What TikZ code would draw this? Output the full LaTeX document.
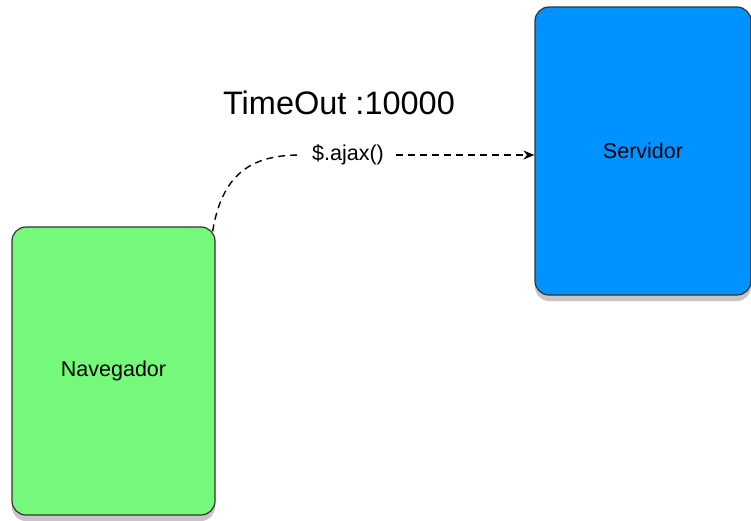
\documentclass[tikz,border=0pt]{standalone}
\usepackage{fontspec}
\setmainfont{Liberation Sans}
\usepackage{tikz}
\usetikzlibrary{arrows,arrows.meta,positioning,calc,shadows}
\definecolor{navgreen}{RGB}{117,249,122}
\definecolor{srvblue}{RGB}{0,146,255}
\tikzset{
    cliente/.style={draw=black!80, line width=1.2pt, rectangle, fill=navgreen, minimum width=203pt, minimum height=288pt, text centered, rounded corners=14pt, font=\fontsize{21.5}{24}\selectfont, drop shadow={shadow xshift=0pt, shadow yshift=-6pt, opacity=0.45}},
    servidor/.style={cliente, fill=srvblue, minimum width=216pt},
    peticion/.style={dashed, dash pattern=on 7pt off 5pt, line width=1.4pt, >={Stealth[length=11pt,width=9pt]}},
    rotulo/.style={font=\fontsize{21.5}{24}\selectfont, inner sep=12pt}
}

\begin{document}
\begin{tikzpicture}[x=1pt, y=-1pt]
    \useasboundingbox (0,0) rectangle (751,520);

    \node[cliente] (nav) at (113.5,371) {Navegador};
    \node[servidor] (srv) at (643,151) {Servidor};

    \node[font=\fontsize{32.5}{36}\selectfont] (timeout) at (339,103) {TimeOut :10000};
    \node[rotulo] (ajax) at (348,155) {\$.ajax()};

    % llamada asincrona del navegador al servidor
    \coordinate (salida) at ($(nav.north east)+(-3,5)$);
    \draw[peticion] (salida) .. controls (222,175) and (250,155) .. (ajax.west);
    \draw[peticion,->] (ajax.east) -- (srv.west |- ajax);
\end{tikzpicture}
\end{document}
